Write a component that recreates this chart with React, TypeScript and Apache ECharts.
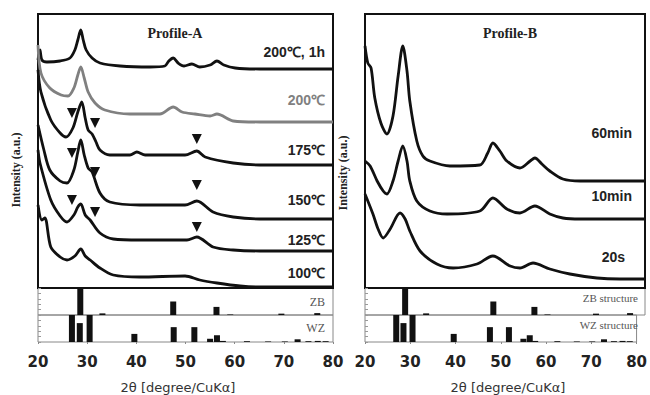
import React, { useEffect, useRef } from "react";
import * as echarts from "echarts";

type P = [number, number];

// Profile-A curves: [2θ (deg), intensity (a.u., offset stacked)]
const a200C1h: P[] = [
  [20.0, 228], [20.4, 238], [20.8, 228], [21.8, 226], [24.5, 227], [26.5, 230], [27.5, 238],
  [28.1, 248], [28.7, 258], [29.2, 248], [29.8, 238], [31.0, 230], [32.6, 225], [36.7, 222],
  [42.8, 221], [45.8, 222], [46.6, 227], [47.5, 230], [48.5, 225], [49.7, 222], [51.3, 224],
  [52.9, 221], [55.0, 223], [56.4, 227], [57.8, 223], [60.1, 220], [65.1, 219], [73.3, 219], [80.0, 219],
];
const a200C: P[] = [
  [20.0, 243], [20.6, 215], [22.4, 200], [24.7, 193], [26.1, 192], [27.3, 200], [28.1, 213],
  [28.7, 221], [29.4, 210], [30.2, 196], [31.6, 185], [33.6, 178], [38.7, 174], [44.8, 174],
  [47.5, 181], [49.3, 176], [51.9, 174], [55.0, 172], [56.4, 174], [59.7, 167], [65.1, 166], [80.0, 166],
];
const a175C: P[] = [
  [20.0, 218], [20.6, 196], [22.6, 168], [24.5, 155], [25.7, 151], [27.1, 160], [28.1, 176],
  [28.9, 186], [29.6, 170], [30.2, 158], [31.0, 154], [31.8, 146], [32.6, 138], [34.6, 133],
  [38.7, 133], [40.1, 136], [41.8, 133], [49.9, 133], [52.3, 137], [54.0, 131], [59.7, 125],
  [65.1, 123], [80.0, 123],
];
const a150C: P[] = [
  [20.0, 163], [21.2, 138], [22.4, 118], [24.5, 107], [25.9, 105], [27.3, 118], [28.1, 136],
  [28.7, 148], [29.4, 133], [30.2, 120], [31.0, 116], [32.6, 95], [34.6, 86], [40.7, 83],
  [49.9, 83], [52.3, 87], [55.6, 76], [59.7, 71], [65.1, 69], [80.0, 69],
];
const a125C: P[] = [
  [20.0, 138], [20.4, 125], [22.6, 88], [24.5, 72], [25.9, 66], [27.3, 73], [28.1, 81],
  [28.7, 84], [29.6, 73], [30.6, 68], [32.6, 55], [35.3, 49], [40.7, 48], [50.3, 48],
  [52.3, 51], [55.6, 41], [59.7, 38], [65.1, 37], [80.0, 37],
];
const a100C: P[] = [
  [20.0, 83], [20.8, 68], [21.4, 70], [22.6, 41], [24.5, 31], [25.9, 28], [27.5, 32],
  [28.7, 39], [29.6, 32], [30.6, 28], [32.6, 20], [35.3, 13], [40.7, 11], [49.9, 12],
  [52.9, 8], [56.4, 5], [61.1, 2], [65.1, 1], [80.0, 1],
];
// WZ markers (▼) on Profile-A
const markers: P[] = [
  [26.9, 175], [31.6, 165], [52.3, 149],
  [26.9, 135], [31.6, 116], [52.3, 103],
  [26.9, 88], [31.6, 76], [52.3, 61],
];

// Profile-B curves
const b60min: P[] = [
  [20.0, 242], [20.6, 225], [21.3, 220], [22.1, 190], [23.4, 165], [24.7, 154], [26.0, 172],
  [27.1, 212], [28.1, 242], [29.0, 217], [29.6, 187], [31.1, 147], [32.4, 132], [33.9, 127],
  [38.2, 122], [44.6, 123], [46.3, 135], [47.4, 145], [48.9, 137], [50.4, 127], [53.2, 120],
  [55.4, 127], [56.4, 130], [57.9, 124], [59.6, 117], [62.4, 109], [66.1, 107], [80.0, 107],
];
const b10min: P[] = [
  [20.0, 127], [21.1, 122], [22.6, 107], [23.9, 97], [24.7, 94], [26.0, 107], [27.1, 127],
  [28.1, 142], [29.0, 127], [29.6, 107], [31.1, 87], [33.9, 77], [37.6, 74], [44.6, 77],
  [47.4, 90], [50.4, 79], [53.2, 75], [56.4, 82], [59.6, 74], [62.4, 70], [66.1, 69], [80.0, 69],
];
const b20s: P[] = [
  [20.0, 94], [21.7, 74], [22.8, 59], [23.9, 50], [25.4, 59], [27.5, 75], [28.6, 69],
  [29.6, 57], [31.8, 37], [35.4, 24], [38.9, 20], [44.0, 24], [47.4, 32], [51.1, 22],
  [53.2, 20], [56.0, 25], [59.6, 19], [63.9, 14], [69.7, 10], [74.6, 9], [80.0, 9],
];

// Reference patterns: [2θ, relative intensity %]
const zbPeaks: P[] = [[28.6, 100], [33.1, 6], [47.5, 50], [56.3, 30], [59.1, 2], [69.5, 5], [76.8, 7]];
const wzPeaks: P[] = [
  [26.9, 100], [28.5, 70], [30.5, 100], [39.6, 30], [47.6, 55], [51.8, 55], [55.0, 12],
  [56.4, 25], [57.6, 4], [62.5, 3], [66.8, 2], [70.2, 2], [72.8, 10], [75.0, 3], [76.9, 4], [78.5, 3],
];

const xMin = 20;
const xMax = 80;
const xStep = 10;

export default function App() {
  const ref = useRef<HTMLDivElement>(null);
  useEffect(() => {
    if (!ref.current) return;
    const chart = echarts.init(ref.current, null, { renderer: "svg" });
    const L = { left: 38, width: 295 };
    const R = { left: 365, width: 280 };
    const stripBorder = { show: true, borderColor: "#888", borderWidth: 1, backgroundColor: "transparent" };
    const grids = [
      { ...L, top: 288, height: 27, ...stripBorder },
      { ...L, top: 315, height: 27, ...stripBorder },
      { ...R, top: 288, height: 27, ...stripBorder },
      { ...R, top: 315, height: 27, ...stripBorder },
      { ...L, top: 14, height: 274, show: true, borderColor: "#111", borderWidth: 2, backgroundColor: "transparent" },
      { ...R, top: 14, height: 274, show: true, borderColor: "#111", borderWidth: 2, backgroundColor: "transparent" },
    ];
    const xAxes = grids.map((_, i) => {
      const labeled = i === 1 || i === 3;
      return {
        type: "value",
        gridIndex: i,
        min: xMin,
        max: xMax,
        interval: xStep,
        axisLine: { show: false },
        axisTick: labeled ? { show: true, length: 2, lineStyle: { color: "#888" } } : { show: false },
        splitLine: { show: false },
        axisLabel: labeled
          ? { show: true, margin: 12, fontFamily: "DejaVu Sans", fontWeight: "bold", fontSize: 15, color: "#222" }
          : { show: false },
      };
    });
    const yAxes = grids.map((_, i) => {
      const strip = i < 4;
      return strip
        ? {
            type: "value", gridIndex: i, min: 0, max: 100, interval: 20,
            axisLine: { show: false }, splitLine: { show: false }, axisLabel: { show: false },
            axisTick: { show: true, inside: true, length: 3, lineStyle: { color: "#999" } },
          }
        : { type: "value", gridIndex: i, min: 0, max: 274, show: false };
    });
    const line = (data: P[], gi: number, color = "#111") => ({
      type: "line", xAxisIndex: gi, yAxisIndex: gi, data, showSymbol: false, smooth: 0.3,
      lineStyle: { color, width: 2.8 }, silent: true,
    });
    const bars = (data: P[], gi: number) => ({
      type: "bar", xAxisIndex: gi, yAxisIndex: gi, data, barWidth: 6,
      itemStyle: { color: "#111" }, silent: true,
    });
    const series: any[] = [
      bars(zbPeaks, 0), bars(wzPeaks, 1), bars(zbPeaks, 2), bars(wzPeaks, 3),
      line(a200C1h, 4), line(a200C, 4, "#808080"), line(a175C, 4), line(a150C, 4), line(a125C, 4), line(a100C, 4),
      {
        type: "scatter", xAxisIndex: 4, yAxisIndex: 4, data: markers, symbol: "triangle",
        symbolRotate: 180, symbolSize: [10, 10], itemStyle: { color: "#111", opacity: 1 }, silent: true, z: 5,
      },
      line(b60min, 5), line(b10min, 5), line(b20s, 5),
    ];
    const lab = (text: string, x: number, y: number, fill = "#222", size = 14) => ({
      type: "text", x, y,
      style: { text, fill, textAlign: "right", textVerticalAlign: "middle", font: `bold ${size}px "Liberation Sans"` },
    });
    const serif = (text: string, x: number, y: number, opts: any = {}) => ({
      type: "text", x, y, rotation: opts.rotation || 0,
      style: {
        text, fill: opts.fill || "#222", textAlign: opts.align || "center", textVerticalAlign: "middle",
        font: `${opts.weight || "bold"} ${opts.size || 14}px "Liberation Serif"`,
      },
    });
    const graphic: any[] = [
      serif("Profile-A", 175, 33),
      serif("Profile-B", 510, 33),
      lab("200℃, 1h", 325, 52),
      lab("200℃", 325, 100, "#808080"),
      lab("175℃", 325, 150),
      lab("150℃", 325, 200),
      lab("125℃", 325, 240),
      lab("100℃", 325, 273),
      lab("60min", 632, 133),
      lab("10min", 632, 196),
      lab("20s", 625, 257),
      serif("ZB", 325, 302, { align: "right", weight: "normal", size: 12, fill: "#555" }),
      serif("WZ", 325, 328, { align: "right", weight: "normal", size: 12, fill: "#555" }),
      serif("ZB structure", 638, 298, { align: "right", weight: "normal", size: 11, fill: "#555" }),
      serif("WZ structure", 638, 325, { align: "right", weight: "normal", size: 11, fill: "#555" }),
      serif("Intensity (a.u.)", 16, 170, { rotation: Math.PI / 2, size: 12 }),
      serif("Intensity (a.u.)", 343, 173, { rotation: Math.PI / 2, size: 12 }),
      {
        type: "text", x: 178, y: 387,
        style: { text: "2θ [degree/CuKα]", fill: "#333", textAlign: "center", textVerticalAlign: "middle", font: '13px "DejaVu Sans"' },
      },
      {
        type: "text", x: 508, y: 387,
        style: { text: "2θ [degree/CuKα]", fill: "#333", textAlign: "center", textVerticalAlign: "middle", font: '13px "DejaVu Sans"' },
      },
    ];
    chart.setOption({
      animation: false,
      backgroundColor: "#fff",
      grid: grids,
      xAxis: xAxes,
      yAxis: yAxes,
      series,
      graphic,
    });
    return () => chart.dispose();
  }, []);
  return (
    <div
      ref={ref}
      style={{ position: "fixed", left: 0, top: 0, width: 650, height: 395, background: "#fff" }}
    />
  );
}
